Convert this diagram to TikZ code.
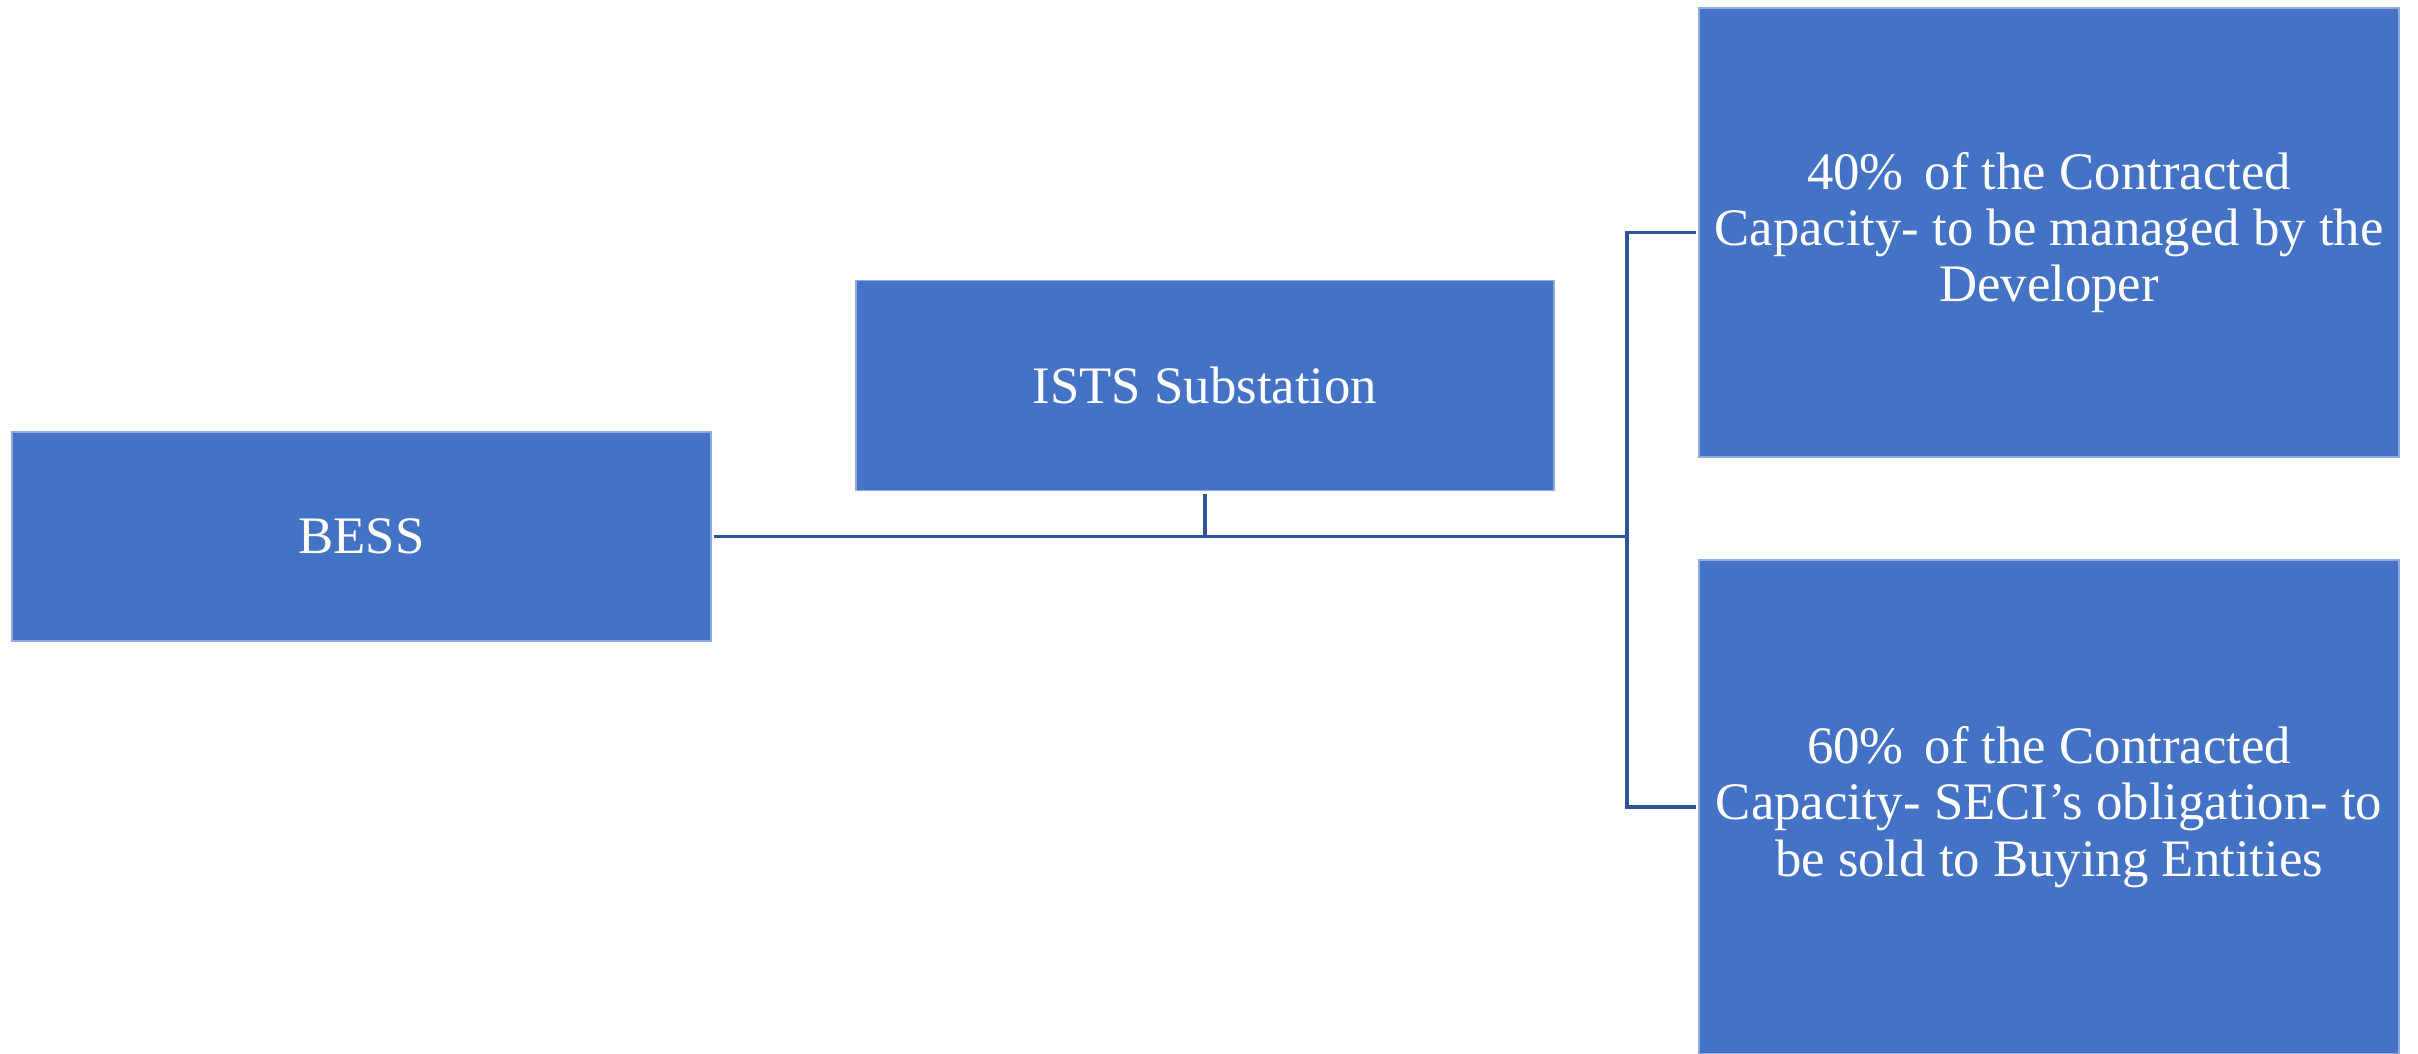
\documentclass[tikz,border=0pt]{standalone}
\usepackage{fontspec}
\setmainfont{Liberation Serif}
\usepackage{tikz}
\usepackage{xcolor}
\definecolor{boxblue}{HTML}{4472C4}
\definecolor{linkblue}{HTML}{2F5597}

\begin{document}
\begin{tikzpicture}[
		block/.style={rectangle,fill=boxblue,draw=boxblue!60!white,line width=0.3pt,text=white,align=center,inner sep=2pt,outer sep=0.03cm,font=\fontsize{15}{16}\selectfont},
		link/.style={draw=linkblue,line width=1.1pt}
	]
			\useasboundingbox (0,0) rectangle (24.18,-10.54);
			\node[block,minimum width=6.99cm,minimum height=2.09cm] (bess) at(3.615,-5.365) {BESS};
			\node[block,minimum width=6.98cm,minimum height=2.10cm] (ists) at(12.05,-3.855) {ISTS Substation};
			\node[block,minimum width=7cm,minimum height=4.49cm] (dev) at(20.49,-2.325) {40\%\hspace{0.15em} of the Contracted\\Capacity- to be managed by the\\Developer};
			\node[block,minimum width=7cm,minimum height=4.94cm] (seci) at(20.49,-8.07) {60\%\hspace{0.15em} of the Contracted\\Capacity- SECI’s obligation- to\\be sold to Buying Entities};
			\coordinate (bus) at(16.27,-5.365);
			\draw[link] (bess.east)--(bus);
			\draw[link] (ists.south)--(ists.south|-bus);
			\draw[link] (dev.west)-|(bus)|-(seci.west);
		\end{tikzpicture}
\end{document}
